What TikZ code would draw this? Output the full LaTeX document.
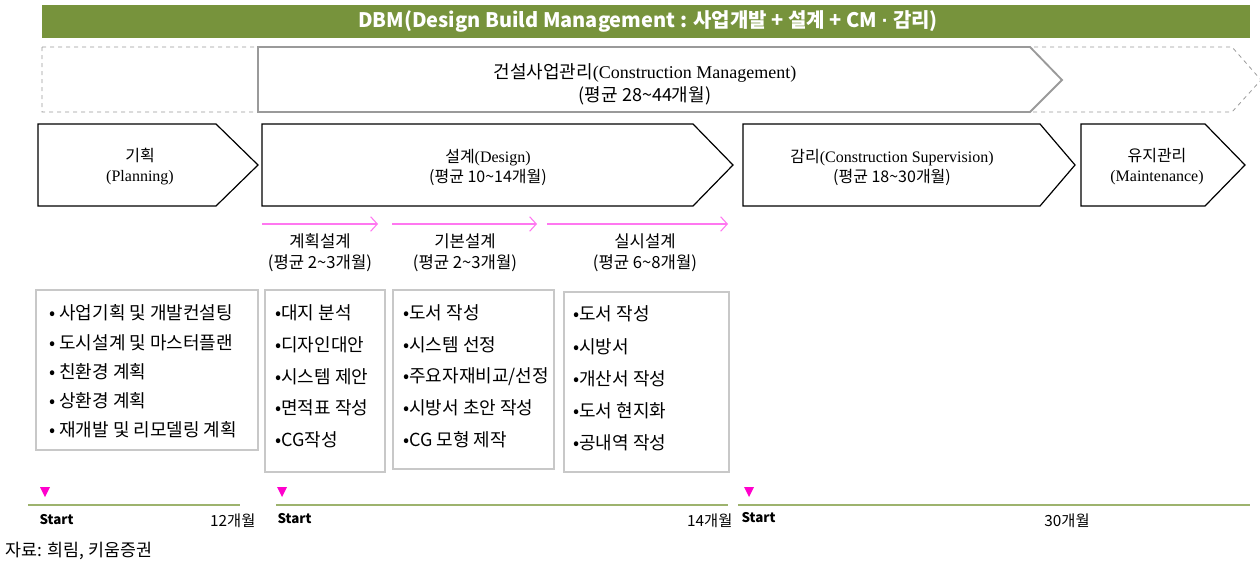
\documentclass[tikz,border=0pt]{standalone}
\usepackage{fontspec}
\setmainfont{Noto Sans CJK KR}
\newfontfamily\tms{Liberation Serif}
\newfontfamily\lat{Liberation Sans}
\usetikzlibrary{arrows.meta,positioning}
\definecolor{dbmgreen}{HTML}{77933C}
\definecolor{lineolive}{HTML}{9DB36E}
\definecolor{cmgray}{HTML}{9A9A9A}
\definecolor{boxgray}{HTML}{C8C8C8}
\definecolor{pinkline}{HTML}{FF77F0}
\definecolor{marker}{HTML}{FF00CC}
\newcommand{\tld}{\textasciitilde}
\tikzset{
  bannertext/.style={text=white,font=\fontsize{15}{17}\selectfont\bfseries},
  cmdash/.style={draw=cmgray,dashed,line width=0.6pt},
  cmsolid/.style={draw=cmgray,line width=1.4pt,fill=white},
  phase/.style={draw=black,line width=0.9pt,fill=white},
  phasetext/.style={align=center,font=\fontsize{12}{15}\selectfont},
  cmtext/.style={align=center,font=\fontsize{13.5}{17}\selectfont},
  sublabel/.style={align=center,font=\fontsize{12.5}{16}\selectfont},
  pinkarr/.style={-{Straight Barb[length=5pt,width=11pt]},draw=pinkline,line width=0.8pt},
  itembox/.style={draw=boxgray,line width=0.8pt},
  item/.style={anchor=west,inner sep=0pt,font=\fontsize{13.5}{15}\selectfont},
  timeline/.style={draw=lineolive,line width=1.6pt},
  tlstart/.style={font=\fontsize{10}{12}\selectfont\bfseries,inner sep=1pt},
  tlmonth/.style={font=\fontsize{11.5}{12}\selectfont,inner sep=1pt}
}
\begin{document}
\begin{tikzpicture}[x=0.75pt,y=-0.75pt]
  \useasboundingbox (0,0) rectangle (1260,567);

  % DBM banner
  \fill[dbmgreen] (42,5) rectangle (1250,38);
  \node[bannertext] (dbm) at (648,21)
    {DBM(Design Build Management : 사업개발 + 설계 + CM {\lat\bfseries ·} 감리)};

  % CM span: dashed full range, solid part on top
  \draw[cmdash] (42,47) -- (1232,47) -- (1261,80) -- (1232,112) -- (42,112) -- cycle;
  \draw[cmsolid] (258,47) -- (1030,47) -- (1062,80) -- (1030,112) -- (258,112) -- cycle;
  \node[cmtext] (cm) at (645,84)
    {건설사업관리{\tms(Construction Management)}\\(평균 28\tld 44개월)};

  % project phases
  \foreach \xl/\xb/\xt in {38/216/258, 262/693/733, 743/1040/1075, 1081/1205/1245}
    \draw[phase] (\xl,124) -- (\xb,124) -- (\xt,165) -- (\xb,206) -- (\xl,206) -- cycle;
  \node[phasetext] (plan) at (140,167) {기획\\{\tms (Planning)}};
  \node[phasetext] (design) at (488,167) {설계{\tms(Design)}\\(평균 10\tld 14개월)};
  \node[phasetext] (super) at (892,167)
    {감리{\tms(Construction Supervision)}\\(평균 18\tld 30개월)};
  \node[phasetext] (maint) at (1157,167) {유지관리\\{\tms (Maintenance)}};

  % design sub-steps
  \coordinate (s0) at (262,224);
  \coordinate (s1) at (378,224);
  \coordinate (s2) at (392,224);
  \coordinate (s3) at (537,224);
  \coordinate (s4) at (547,224);
  \coordinate (s5) at (728,224);
  \draw[pinkarr] (s0) -- (s1);
  \draw[pinkarr] (s2) -- (s3);
  \draw[pinkarr] (s4) -- (s5);
  \node[sublabel] (sd1) at (320,253) {계획설계\\(평균 2\tld 3개월)};
  \node[sublabel] (sd2) at (465,253) {기본설계\\(평균 2\tld 3개월)};
  \node[sublabel] (sd3) at (645,253) {실시설계\\(평균 6\tld 8개월)};

  % task lists
  \draw[itembox] (36,290) rectangle (258,450);
  \draw[itembox] (265,290) rectangle (385,472);
  \draw[itembox] (393,290) rectangle (554,469);
  \draw[itembox] (564,292) rectangle (729,472);
  \foreach \txt [count=\i] in {사업기획 및 개발컨설팅, 도시설계 및 마스터플랜,
      친환경 계획, 상환경 계획, 재개발 및 리모델링 계획}
    \node[item] (pl\i) at (49,{313+29.3*(\i-1)}) {•\ \txt};
  \foreach \txt [count=\i] in {대지 분석, 디자인대안, 시스템 제안, 면적표 작성, CG작성}
    \node[item] (sa\i) at (275,{313+31.7*(\i-1)}) {•\txt};
  \foreach \txt [count=\i] in {도서 작성, 시스템 선정, 주요자재비교/선정, 시방서 초안 작성, CG 모형 제작}
    \node[item] (ba\i) at (403,{313+31.7*(\i-1)}) {•\txt};
  \foreach \txt [count=\i] in {도서 작성, 시방서, 개산서 작성, 도서 현지화, 공내역 작성}
    \node[item] (de\i) at (573,{314+32.3*(\i-1)}) {•\txt};

  % time axis
  \draw[timeline] (28,505) -- (240,505);
  \draw[timeline] (276,505) -- (728,505);
  \draw[timeline] (738,505) -- (1250,505);
  \foreach \x in {45,282,749}
    \fill[marker] (\x-5,487) -- (\x+5,487) -- (\x,497) -- cycle;
  \node[tlstart,anchor=west] (st1) at (38,520) {Start};
  \node[tlstart,anchor=west] (st2) at (276,519) {Start};
  \node[tlstart,anchor=west] (st3) at (740,518) {Start};
  \node[tlmonth,anchor=east] (m12) at (257,521) {12개월};
  \node[tlmonth,anchor=east] (m14) at (734,521) {14개월};
  \node[tlmonth] (m30) at (1067,521) {30개월};

  \node[anchor=west,font=\fontsize{13}{15}\selectfont] (src) at (1,551) {자료: 희림, 키움증권};
\end{tikzpicture}
\end{document}
